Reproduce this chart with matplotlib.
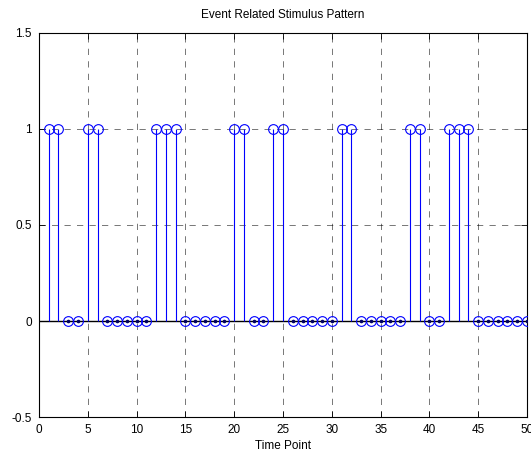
import matplotlib
matplotlib.use("Agg")
import matplotlib.pyplot as plt

plt.rcParams['font.family'] = ['Liberation Sans', 'DejaVu Sans']
plt.rcParams['lines.scale_dashes'] = False

# Stimulus on/off pattern over 50 time points
time_points = list(range(1, 51))
stimulus = [1, 1, 0, 0, 1, 1, 0, 0, 0, 0,
            0, 1, 1, 1, 0, 0, 0, 0, 0, 1,
            1, 0, 0, 1, 1, 0, 0, 0, 0, 0,
            1, 1, 0, 0, 0, 0, 0, 1, 1, 0,
            0, 1, 1, 1, 0, 0, 0, 0, 0, 0]
x_ticks = [0, 5, 10, 15, 20, 25, 30, 35, 40, 45, 50]
y_ticks = [-0.5, 0, 0.5, 1, 1.5]
y_tick_labels = ['-0.5', '0', '0.5', '1', '1.5']

fig = plt.figure(figsize=(5.31, 4.55), dpi=100)
ax = fig.add_axes([0.0734, 0.0835, 0.9191, 0.844])

blue = '#0000ff'
ax.axhline(0, color='black', lw=1.0, zorder=2)
markerline, stemlines, baseline = ax.stem(time_points, stimulus, basefmt=' ')
plt.setp(stemlines, color=blue, linewidth=0.8)
plt.setp(markerline, marker='o', markersize=7, markerfacecolor='none',
         markeredgecolor=blue, markeredgewidth=0.8, zorder=3)
# small centre dots where the zero-height stems collapse to a point
zero_x = [t for t, v in zip(time_points, stimulus) if v == 0]
ax.plot(zero_x, [0] * len(zero_x), linestyle='none', marker='o',
        markersize=1.6, color='#000066', zorder=4)

ax.set_xlim(0, 50)
ax.set_ylim(-0.5, 1.5)
ax.set_xticks(x_ticks)
ax.set_xticklabels([str(t) for t in x_ticks])
ax.set_yticks(y_ticks)
ax.set_yticklabels(y_tick_labels)

ax.grid(True, color='black', linestyle=(0, (4.5, 4.5)), linewidth=0.5, alpha=0.75)
ax.set_axisbelow(True)
ax.tick_params(direction='in', length=4, width=0.6, labelsize=8.5,
               top=True, right=True)
ax.tick_params(axis='x', pad=5)
ax.tick_params(axis='y', pad=5)
for s in ax.spines.values():
    s.set_linewidth(0.8)

ax.set_title('Event Related Stimulus Pattern', fontsize=8.5, pad=11)
ax.set_xlabel('Time Point', fontsize=8.5, labelpad=3)

fig.savefig('out.png', dpi=100)
